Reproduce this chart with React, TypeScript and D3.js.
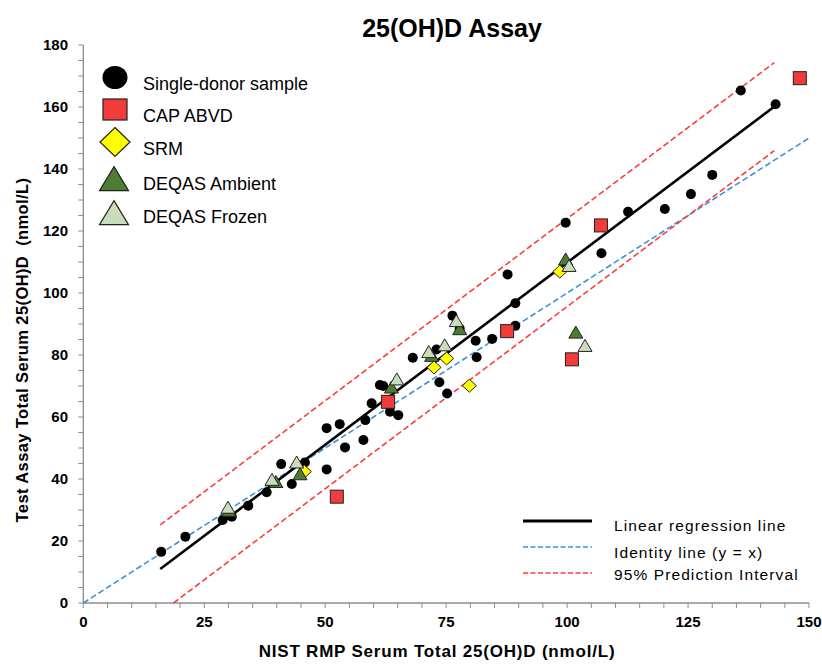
import React from "react";
import * as d3 from "d3";

const donorX = [16.1, 21.1, 28.8, 30.7, 34.1, 37.9, 40.9, 43.1, 45.8, 50.3, 50.3, 53.0, 54.1, 57.9, 58.3, 59.6, 61.3, 62.0, 63.4, 65.1, 68.1, 73.0, 73.6, 75.2, 76.3, 77.8, 81.1, 81.3, 84.5, 89.3, 89.3, 87.7, 99.7, 107.1, 112.6, 120.2, 125.6, 130.0, 135.9, 143.1];
const donorY = [16.5, 21.4, 26.8, 27.8, 31.4, 35.7, 44.8, 38.4, 45.3, 56.4, 43.1, 57.7, 50.2, 52.6, 59.0, 64.4, 70.3, 70.0, 61.7, 60.6, 79.1, 81.8, 71.2, 67.6, 92.7, 88.5, 84.6, 79.3, 85.2, 89.4, 96.7, 106.0, 122.7, 112.8, 126.2, 127.1, 131.9, 138.1, 165.3, 160.9];

const capX = [52.4, 63.0, 87.6, 101.0, 107.0, 148.1];
const capY = [34.3, 64.9, 87.7, 78.6, 121.8, 169.3];

const srmX = [45.7, 72.5, 75.1, 79.8, 98.5];
const srmY = [42.4, 76.0, 78.9, 70.1, 106.9];

const ambX = [30.1, 39.8, 44.8, 63.7, 72.0, 77.8, 99.7, 101.8];
const ambY = [29.5, 38.8, 41.3, 69.3, 79.5, 88.1, 110.6, 87.0];

const frzX = [29.9, 39.0, 44.1, 64.8, 71.4, 74.7, 77.1, 100.4, 103.7];
const frzY = [30.5, 39.5, 45.1, 71.9, 80.7, 82.9, 90.7, 108.5, 82.7];

const regSlope = 1.175;
const regIntercept = -7.7;
const regRange = [15.9, 142.8];
const piHalfWidth = 14.2;

const xTicks = [0, 25, 50, 75, 100, 125, 150];
const yTicks = [0, 20, 40, 60, 80, 100, 120, 140, 160, 180];

const legendLabels = ["Single-donor sample", "CAP ABVD", "SRM", "DEQAS Ambient", "DEQAS Frozen"];
const lineLegendLabels = ["Linear regression line", "Identity line (y = x)", "95% Prediction Interval"];

const FONT = "'Liberation Sans', Arial, sans-serif";
const RED = "#f23c3c";
const YELLOW = "#ffff00";
const DARKG = "#4f7d2f";
const LIGHTG = "#c9dcbc";
const BLUE = "#3a93d8";
const DRED = "#ff3b3b";

function tri(cx: number, cy: number, w: number, h: number) {
  return `M${cx},${cy - h * 0.6}L${cx + w / 2},${cy + h * 0.4}L${cx - w / 2},${cy + h * 0.4}Z`;
}
function diamond(cx: number, cy: number, w: number, h: number) {
  return `M${cx},${cy - h / 2}L${cx + w / 2},${cy}L${cx},${cy + h / 2}L${cx - w / 2},${cy}Z`;
}

export default function App() {
  const x = d3.scaleLinear().domain([0, 150]).range([83.3, 809]);
  const y = d3.scaleLinear().domain([0, 180]).range([603, 45]);
  const x0 = x(0), y0 = y(0);
  const xMinor = d3.range(0, 151, 5);
  const yMinor = d3.range(0, 181, 5);
  const line = d3.line<[number, number]>().x(d => x(d[0])).y(d => y(d[1]));
  const reg = (v: number) => regSlope * v + regIntercept;
  const lowStart = (piHalfWidth - regIntercept) / regSlope;

  const regPts: [number, number][] = regRange.map(v => [v, reg(v)] as [number, number]);
  const upPts: [number, number][] = regRange.map(v => [v, reg(v) + piHalfWidth] as [number, number]);
  const lowPts: [number, number][] = [[lowStart, 0], [regRange[1], reg(regRange[1]) - piHalfWidth]];
  const idPts: [number, number][] = [[0, 0], [150, 150]];

  const legCY = [77.5, 109.5, 142, 181, 215];
  const legBase = [90, 121.5, 155, 190, 223];
  const lineLegY = [521, 547, 573];
  const lineLegBase = [531, 557.5, 580];

  return (
    <svg width={822} height={664} style={{ position: "absolute", left: 0, top: 0, background: "#fff" }} fontFamily={FONT}>
      <rect width={822} height={664} fill="#fff" />
      <text x={452} y={37} textAnchor="middle" fontSize={25} fontWeight="bold">25(OH)D Assay</text>

      {/* axes */}
      <line x1={x0} y1={y(180)} x2={x0} y2={y0} stroke="#8c8c8c" strokeWidth={1.3} />
      <line x1={x0} y1={y0} x2={x(150)} y2={y0} stroke="#8c8c8c" strokeWidth={1.3} />
      {yMinor.map(t => (
        <line key={"ym" + t} x1={x0 - 5} x2={x0} y1={y(t)} y2={y(t)} stroke="#8c8c8c" strokeWidth={1} />
      ))}
      {xMinor.map(t => (
        <line key={"xm" + t} x1={x(t)} x2={x(t)} y1={y0} y2={y0 + 5} stroke="#8c8c8c" strokeWidth={1} />
      ))}
      {yTicks.map(t => (
        <text key={"yt" + t} x={68} y={y(t) + 5} textAnchor="end" fontSize={15} fontWeight="bold">{t}</text>
      ))}
      {xTicks.map(t => (
        <text key={"xt" + t} x={x(t)} y={627} textAnchor="middle" fontSize={15} fontWeight="bold">{t}</text>
      ))}
      <text x={437} y={657} textAnchor="middle" fontSize={17} fontWeight="bold" letterSpacing={0.8}>NIST RMP Serum Total 25(OH)D (nmol/L)</text>
      <text transform="translate(28,350) rotate(-90)" textAnchor="middle" fontSize={16.5} fontWeight="bold" letterSpacing={0.4} xmlSpace="preserve">Test Assay Total Serum 25(OH)D  (nmol/L)</text>

      {/* lines */}
      <path d={line(idPts) || ""} stroke={BLUE} strokeWidth={1.6} strokeDasharray="6,3" fill="none" />
      <path d={line(upPts) || ""} stroke={DRED} strokeWidth={1.6} strokeDasharray="6,3" fill="none" />
      <path d={line(lowPts) || ""} stroke={DRED} strokeWidth={1.6} strokeDasharray="6,3" fill="none" />
      <path d={line(regPts) || ""} stroke="#000" strokeWidth={2.6} fill="none" />

      {/* points */}
      {donorX.map((v, i) => (
        <circle key={"d" + i} cx={x(v)} cy={y(donorY[i])} r={5} fill="#000" />
      ))}
      {capX.map((v, i) => (
        <rect key={"c" + i} x={x(v) - 6.5} y={y(capY[i]) - 6.5} width={13} height={13} fill={RED} stroke="#222" strokeWidth={1} />
      ))}
      {srmX.map((v, i) => (
        <path key={"s" + i} d={diamond(x(v), y(srmY[i]), 14, 13)} fill={YELLOW} stroke="#222" strokeWidth={1} />
      ))}
      {ambX.map((v, i) => (
        <path key={"a" + i} d={tri(x(v), y(ambY[i]), 14, 12)} fill={DARKG} stroke="#222" strokeWidth={1} />
      ))}
      {frzX.map((v, i) => (
        <path key={"f" + i} d={tri(x(v), y(frzY[i]), 14, 12)} fill={LIGHTG} stroke="#222" strokeWidth={1} />
      ))}

      {/* marker legend */}
      <ellipse cx={115} cy={legCY[0]} rx={12.5} ry={11.5} fill="#000" />
      <rect x={103} y={legCY[1] - 10.5} width={24} height={21} fill={RED} stroke="#222" strokeWidth={1.2} />
      <path d={diamond(115, legCY[2], 30, 29)} fill={YELLOW} stroke="#222" strokeWidth={1.2} />
      <path d={tri(114, legCY[3], 29, 24)} fill={DARKG} stroke="#222" strokeWidth={1.2} />
      <path d={tri(114, legCY[4], 29, 24)} fill={LIGHTG} stroke="#222" strokeWidth={1.2} />
      {legendLabels.map((l, i) => (
        <text key={"ll" + i} x={143} y={legBase[i]} fontSize={18}>{l}</text>
      ))}

      {/* line legend */}
      <line x1={523} x2={592} y1={lineLegY[0]} y2={lineLegY[0]} stroke="#000" strokeWidth={2.8} />
      <line x1={523} x2={592} y1={lineLegY[1]} y2={lineLegY[1]} stroke={BLUE} strokeWidth={1.6} strokeDasharray="5,2.5" />
      <line x1={523} x2={592} y1={lineLegY[2]} y2={lineLegY[2]} stroke={DRED} strokeWidth={1.6} strokeDasharray="5,2.5" />
      {lineLegendLabels.map((l, i) => (
        <text key={"ml" + i} x={614} y={lineLegBase[i]} fontSize={15.5} letterSpacing={1.1}>{l}</text>
      ))}
    </svg>
  );
}
